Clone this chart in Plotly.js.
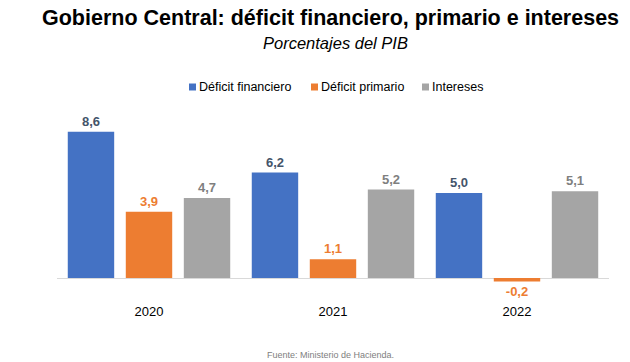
<!DOCTYPE html>
<html>
<head>
<meta charset="utf-8">
<script src="https://cdn.plot.ly/plotly-3.0.1.min.js"></script>
<style>html,body{margin:0;padding:0;background:#fff;}#chart{width:630px;height:362px;}</style>
</head>
<body>
<div id="chart"></div>
<script>
const years = ['2020', '2021', '2022'];
const deficitFinanciero = [8.6, 6.2, 5.0];
const deficitPrimario = [3.9, 1.1, -0.2];
const intereses = [4.7, 5.2, 5.1];
const seriesNames = ['Déficit financiero', 'Déficit primario', 'Intereses'];

const colors = ['#4472C4', '#ED7D31', '#A5A5A5'];
const labelColors = ['#44546A', '#ED7D31', '#7F7F7F'];
const fmt = v => v.toFixed(1).replace('.', ',');

const data = [deficitFinanciero, deficitPrimario, intereses].map((vals, i) => ({
  type: 'bar',
  name: seriesNames[i],
  x: years,
  y: vals,
  marker: {color: colors[i]},
  text: vals.map(fmt),
  textposition: 'outside',
  cliponaxis: false,
  textfont: {family: 'Liberation Sans, Arial, sans-serif', size: 13, color: labelColors[i], weight: 'bold'},
  hoverinfo: 'skip',
  showlegend: false
}));

// custom compact legend (pixel positions converted to paper coordinates)
const L = 57, W = 552, T = 100, H = 200;
const px = v => (v - L) / W;
const py = v => (T + H - v) / H;
const legendSquareX = [189, 311, 422];
const shapes = [];
const legendAnn = [];
seriesNames.forEach((name, i) => {
  const x0 = legendSquareX[i];
  shapes.push({type: 'rect', xref: 'paper', yref: 'paper', x0: px(x0), x1: px(x0 + 7),
               y0: py(90.5), y1: py(83.5), fillcolor: colors[i], line: {width: 0}});
  legendAnn.push({text: name, xref: 'paper', yref: 'paper', x: px(x0 + 8), y: py(87),
                  xanchor: 'left', yanchor: 'middle', showarrow: false,
                  font: {size: 12.5, color: '#000'}});
});

const layout = {
  width: 630, height: 362,
  margin: {l: L, r: 630 - L - W, t: T, b: 362 - T - H},
  paper_bgcolor: '#fff', plot_bgcolor: '#fff',
  font: {family: 'Liberation Sans, Arial, sans-serif', color: '#000'},
  bargap: 0.054, bargroupgap: 0.2,
  showlegend: false,
  xaxis: {showgrid: false, showline: false, ticks: '', tickfont: {size: 13, color: '#000'},
          ticklabelstandoff: 2, fixedrange: true},
  yaxis: {range: [-1.294, 10.47], showgrid: false, showticklabels: false, zeroline: true,
          zerolinecolor: '#d9d9d9', zerolinewidth: 1, ticks: '', fixedrange: true},
  shapes: shapes,
  annotations: [
    {text: '<b>Gobierno Central: déficit financiero, primario e intereses</b>', xref: 'paper', yref: 'paper',
     x: px(330), y: py(18), yanchor: 'middle', showarrow: false, font: {size: 21.5, color: '#000'}},
    {text: '<i>Porcentajes del PIB</i>', xref: 'paper', yref: 'paper',
     x: px(335), y: py(43), yanchor: 'middle', showarrow: false, font: {size: 16.5, color: '#000'}},
    {text: 'Fuente: Ministerio de Hacienda.', xref: 'paper', yref: 'paper',
     x: px(330), y: py(355), yanchor: 'middle', showarrow: false, font: {size: 9, color: '#808080'}}
  ].concat(legendAnn)
};

Plotly.newPlot('chart', data, layout, {displayModeBar: false, staticPlot: true});
</script>
</body>
</html>
